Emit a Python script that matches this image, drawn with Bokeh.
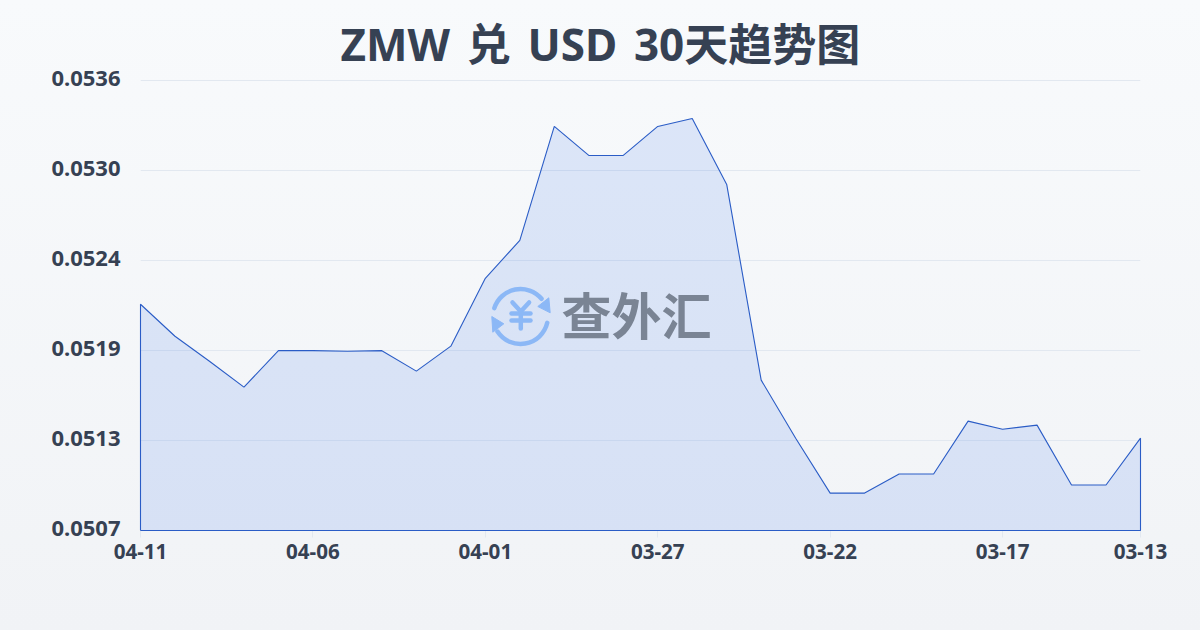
from bokeh.plotting import figure
from bokeh.models import Range1d, Label, FixedTicker
from bokeh.embed import file_html
from bokeh.resources import INLINE

title = "ZMW 兑 USD 30天趋势图"
dates = ["04-11","04-10","04-09","04-08","04-07","04-06","04-05","04-04","04-03","04-02",
         "04-01","03-31","03-30","03-29","03-28","03-27","03-26","03-25","03-24","03-23",
         "03-22","03-21","03-20","03-19","03-18","03-17","03-16","03-15","03-14","03-13"]
rates = [0.052158,0.051952,0.051791,0.051624,0.051859,0.051859,0.051855,0.051859,0.051727,0.051888,
         0.052325,0.052570,0.053304,0.053117,0.053117,0.053304,0.053355,0.052930,0.051669,0.051295,
         0.050941,0.050941,0.051064,0.051064,0.051405,0.051353,0.051379,0.050993,0.050993,0.051295]
y_ticks = [0.0507,0.05128,0.05186,0.05244,0.05302,0.0536]
y_labels = ["0.0507","0.0513","0.0519","0.0524","0.0530","0.0536"]
x_tick_idx = [0,5,10,15,20,25,29]

FONT = "'Noto Sans','Noto Sans CJK SC',sans-serif"
INK = "#364153"

# labels sit 2px above their gridlines, so the frame reaches 2px above the top one
px_per_unit = 450 / (y_ticks[-1] - y_ticks[0])
nudge = 2 / px_per_unit

p = figure(width=1200, height=630, output_backend="svg", toolbar_location=None,
           x_range=Range1d(0, len(dates)-1), y_range=Range1d(y_ticks[0], y_ticks[-1] + nudge),
           min_border_left=140, min_border_right=60, min_border_top=78, min_border_bottom=100,
           background_fill_alpha=0, border_fill_alpha=0, outline_line_alpha=0)
p.styles = {"position": "absolute", "left": "0", "top": "0", "word-spacing": "5.3px",
            "background": "linear-gradient(180deg,#f8fafc 0%,#f1f3f6 100%)"}

p.title.text = title
p.title.align = "left"
p.title.offset = 200
p.title.text_font = FONT
p.title.text_font_size = "44px"
p.title.text_font_style = "bold"
p.title.text_color = INK
p.title.standoff = 10

xs = list(range(len(rates)))
outline_x = [xs[0]] + xs + [xs[-1], xs[0]]
outline_y = [y_ticks[0]] + rates + [y_ticks[0], y_ticks[0]]
p.patch(outline_x, outline_y, fill_color="#2563eb", fill_alpha=0.13, line_alpha=0)

for ax in (p.xaxis[0], p.yaxis[0]):
    ax.axis_line_alpha = 0
    ax.major_label_text_font = FONT
    ax.major_label_text_font_style = "bold"
    ax.major_label_text_color = INK
    ax.minor_tick_line_alpha = 0
label_ticks = [t + nudge for t in y_ticks]
p.yaxis[0].ticker = FixedTicker(ticks=label_ticks)
p.yaxis[0].major_label_overrides = dict(zip(label_ticks, y_labels))
p.yaxis[0].major_label_text_font_size = "22px"
p.yaxis[0].major_tick_line_alpha = 0
p.yaxis[0].major_label_standoff = 14
p.xaxis[0].ticker = FixedTicker(ticks=x_tick_idx)
p.xaxis[0].major_label_overrides = {i: dates[i] for i in x_tick_idx}
p.xaxis[0].major_label_text_font_size = "20.6px"
p.xaxis[0].major_tick_line_color = "#e2e8f0"
p.xaxis[0].major_tick_in = 0
p.xaxis[0].major_tick_out = 7
p.xaxis[0].major_label_standoff = 6
p.xgrid.visible = False
p.ygrid.ticker = FixedTicker(ticks=y_ticks)
p.ygrid.grid_line_color = "#e2e8f0"
p.ygrid.grid_line_width = 1

# pixel-addressed range for the watermark
p.extra_x_ranges["px"] = Range1d(140, 1140)
p.extra_y_ranges["px"] = Range1d(530, 78)
BLUE = "#8cb8f6"
kw = dict(x_range_name="px", y_range_name="px")
p.arc(520, 316, radius=27.5, radius_units="screen", start_angle=0.7, end_angle=2.83,
      line_color=BLUE, line_width=4.5, line_cap="round", **kw)
p.arc(520, 316, radius=27.5, radius_units="screen", start_angle=3.72, end_angle=6.05,
      line_color=BLUE, line_width=4.5, line_cap="round", **kw)
p.patches([[549.7, 537.3, 548.3], [491.3, 503.3, 492.3]],
          [[312.3, 306.0, 297.3], [316.0, 323.3, 331.7]],
          fill_color=BLUE, line_color=BLUE, **kw)
p.multi_line([[512, 520.3, 528.6], [520.3, 520.3], [511, 530], [511, 530]],
             [[302, 311, 302], [311, 328], [313, 313], [320, 320]],
             line_color=BLUE, line_width=4.5, line_cap="round", line_join="round", **kw)
p.add_layout(Label(x=636, y=312, text="查外汇", text_font="'Noto Sans CJK SC'", text_font_style="bold",
                   text_font_size="50px", text_color="#7a8494", text_align="center",
                   text_baseline="middle", **kw))

# outline sits above the frame clip so it keeps its full width
p.line(outline_x, outline_y, line_color="#2a5cc6", line_width=1.1, level="overlay")

open("out.html", "w").write(file_html(p, INLINE))
